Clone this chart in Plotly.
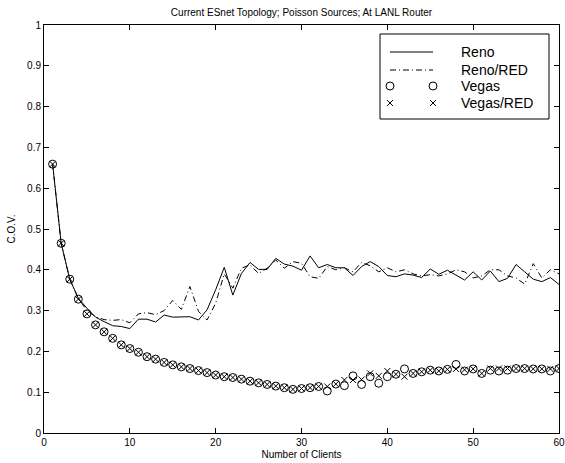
import plotly.graph_objects as go

clients = list(range(1, 61))

reno = [0.660, 0.465, 0.377, 0.330, 0.306, 0.284, 0.273, 0.263, 0.261, 0.256,
        0.279, 0.279, 0.272, 0.289, 0.284, 0.284, 0.285, 0.277, 0.302, 0.351,
        0.406, 0.338, 0.391, 0.418, 0.401, 0.401, 0.428, 0.414, 0.409, 0.399,
        0.434, 0.405, 0.413, 0.405, 0.405, 0.386, 0.408, 0.420, 0.408, 0.386,
        0.383, 0.390, 0.387, 0.381, 0.402, 0.389, 0.399, 0.387, 0.375, 0.395,
        0.375, 0.397, 0.371, 0.379, 0.413, 0.395, 0.377, 0.371, 0.381, 0.364]

reno_red = [0.660, 0.465, 0.377, 0.330, 0.300, 0.285, 0.278, 0.276, 0.278, 0.270,
            0.292, 0.295, 0.290, 0.300, 0.325, 0.303, 0.359, 0.298, 0.277, 0.318,
            0.390, 0.355, 0.404, 0.412, 0.391, 0.404, 0.424, 0.404, 0.420, 0.416,
            0.383, 0.379, 0.408, 0.400, 0.405, 0.395, 0.418, 0.410, 0.395, 0.405,
            0.395, 0.400, 0.390, 0.385, 0.388, 0.385, 0.390, 0.400, 0.395, 0.380,
            0.385, 0.400, 0.400, 0.385, 0.380, 0.365, 0.415, 0.380, 0.400, 0.390]

vegas = [0.659, 0.465, 0.377, 0.328, 0.292, 0.265, 0.248, 0.232, 0.216, 0.207,
         0.198, 0.187, 0.181, 0.173, 0.167, 0.162, 0.158, 0.153, 0.148, 0.142,
         0.138, 0.136, 0.132, 0.127, 0.123, 0.119, 0.115, 0.111, 0.107, 0.109,
         0.111, 0.114, 0.103, 0.120, 0.116, 0.140, 0.119, 0.138, 0.122, 0.138,
         0.144, 0.157, 0.146, 0.150, 0.154, 0.152, 0.156, 0.168, 0.152, 0.157,
         0.146, 0.154, 0.152, 0.154, 0.158, 0.158, 0.157, 0.157, 0.152, 0.158]

vegas_red = [0.659, 0.465, 0.377, 0.328, 0.292, 0.265, 0.248, 0.232, 0.216, 0.207,
             0.198, 0.187, 0.181, 0.173, 0.167, 0.162, 0.158, 0.153, 0.148, 0.142,
             0.138, 0.136, 0.132, 0.127, 0.123, 0.119, 0.115, 0.111, 0.107, 0.109,
             0.111, 0.114, 0.114, 0.120, 0.130, 0.130, 0.131, 0.146, 0.140, 0.152,
             0.144, 0.138, 0.146, 0.150, 0.154, 0.152, 0.156, 0.157, 0.155, 0.157,
             0.146, 0.158, 0.158, 0.158, 0.158, 0.158, 0.157, 0.157, 0.157, 0.158]

series_names = ["Reno", "Reno/RED", "Vegas", "Vegas/RED"]

x_ticks = [0, 10, 20, 30, 40, 50, 60]
y_ticks = [0, 0.1, 0.2, 0.3, 0.4, 0.5, 0.6, 0.7, 0.8, 0.9, 1]
y_tick_labels = ["0", "0.1", "0.2", "0.3", "0.4", "0.5", "0.6", "0.7", "0.8", "0.9", "1"]

FONT = "Liberation Sans, Arial, Helvetica, sans-serif"
W, H = 565, 463
ML, MR, MT, MB = 44, 6, 25, 30

DASHDOT = "6px,3px,1px,3px"
styles = [
    dict(mode="lines", line=dict(color="black", width=1)),
    dict(mode="lines", line=dict(color="black", width=1, dash=DASHDOT)),
    dict(mode="markers", marker=dict(symbol="circle-open", size=8, color="black",
                                     line=dict(width=1, color="black"))),
    dict(mode="markers", marker=dict(symbol="x-thin-open", size=6, color="black",
                                     line=dict(width=1, color="black"))),
]

fig = go.Figure()
for name, ys, st in zip(series_names, [reno, reno_red, vegas, vegas_red], styles):
    fig.add_trace(go.Scatter(x=clients, y=ys, name=name, showlegend=False,
                             hoverinfo="skip", **st))

# ---- custom legend drawn on an overlay axis measured in page pixels ----
lg_left, lg_right, lg_top, lg_bottom = 380, 549, 34, 119
lg_rows = [52, 70, 86, 103]
lg_x0, lg_x1, lg_text_x = 390, 433, 459

fig.add_shape(type="rect", xref="x2", yref="y2", x0=lg_left, x1=lg_right,
              y0=lg_top, y1=lg_bottom, line=dict(color="black", width=1),
              fillcolor="white", layer="below")
for name, row, st in zip(series_names, lg_rows, styles):
    fig.add_trace(go.Scatter(x=[lg_x0, lg_x1], y=[row, row], xaxis="x2", yaxis="y2",
                             showlegend=False, hoverinfo="skip", **st))
    fig.add_annotation(x=lg_text_x, y=row, xref="x2", yref="y2", text=name,
                       showarrow=False, xanchor="left", yanchor="middle",
                       font=dict(size=14, family=FONT, color="black"))

axis_common = dict(ticks="inside", ticklen=5, tickcolor="black",
                   showline=True, linecolor="black", linewidth=1, mirror="ticks",
                   showgrid=False, zeroline=False, tickfont=dict(size=10, color="black"),
                   ticklabeloverflow="allow")

fig.update_layout(
    width=W, height=H,
    margin=dict(l=ML, r=MR, t=MT, b=MB),
    paper_bgcolor="white", plot_bgcolor="white",
    font=dict(family=FONT, size=10, color="black"),
    title=dict(text="Current ESnet Topology; Poisson Sources; At LANL Router",
               x=(ML + (W - ML - MR) / 2) / W, xanchor="center", y=1 - 12 / H,
               yanchor="middle", font=dict(size=10)),
    showlegend=False,
    xaxis=dict(range=[0, 60], tickvals=x_ticks, automargin=False,
               title=dict(text="Number of Clients", standoff=3, font=dict(size=10)),
               **axis_common),
    yaxis=dict(range=[0, 1], tickvals=y_ticks, ticktext=y_tick_labels, automargin=False,
               title=dict(text="C.O.V.", standoff=9, font=dict(size=10)),
               **axis_common),
    xaxis2=dict(overlaying="x", anchor="y2", range=[ML, W - MR], visible=False,
                fixedrange=True),
    yaxis2=dict(overlaying="y", anchor="x2", range=[H - MB, MT], visible=False,
                fixedrange=True),
)

fig.write_html("out.html", config=dict(displayModeBar=False),
               post_script="document.body.style.margin='0';")
